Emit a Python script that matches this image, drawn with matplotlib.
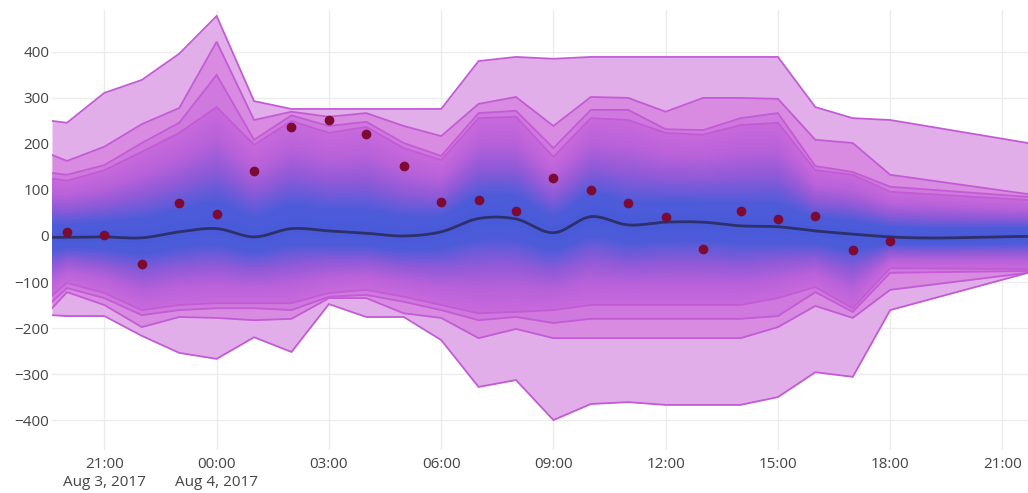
import numpy as np
import pandas as pd
import matplotlib
matplotlib.use('Agg')
import matplotlib.pyplot as plt
import matplotlib.dates as mdates

# hourly observations
obs_times = pd.date_range('2017-08-03 20:00', '2017-08-04 18:00', freq='h')
observed = [9, 2, -61, 72, 48, 141, 237, 252, 222, 152, 74, 78, 54, 126,
            100, 72, 41, -29, 54, 37, 43, -30, -11]

# forecast band times: left edge, hourly, right edge
band_times = (pd.DatetimeIndex([pd.Timestamp('2017-08-03 19:36')])
              .append(obs_times)
              .append(pd.DatetimeIndex([pd.Timestamp('2017-08-04 21:41')])))

median = [-3, -3, -2, -4, 9, 16, -2, 16, 11, 6, 0, 9, 38, 37, 7, 42, 24, 30,
          30, 22, 20, 11, 4, -2, -1]

# upper quantile edges, outermost first
upper1 = [250, 246, 311, 339, 396, 478, 293, 276, 276, 276, 276, 276, 380,
          389, 385, 389, 389, 389, 389, 389, 389, 280, 256, 252, 202]
upper2 = [176, 163, 194, 243, 278, 422, 252, 270, 259, 267, 239, 217, 287,
          302, 239, 302, 300, 270, 300, 300, 298, 209, 202, 133, 91]
upper3 = [137, 133, 154, 202, 246, 350, 209, 262, 239, 248, 202, 174, 267,
          272, 191, 274, 274, 232, 230, 256, 267, 152, 139, 107, 85]
upper4 = [125, 120, 143, 183, 224, 280, 198, 250, 224, 237, 191, 165, 256,
          259, 172, 256, 252, 224, 220, 241, 246, 143, 133, 96, 78]

# lower quantile edges, outermost first
lower1 = [-172, -174, -174, -217, -254, -267, -220, -252, -148, -176, -176,
          -226, -328, -313, -400, -365, -361, -367, -367, -367, -350, -296,
          -306, -161, -80]
lower2 = [-157, -122, -150, -198, -176, -178, -183, -180, -135, -135, -168,
          -178, -222, -202, -222, -222, -222, -222, -222, -222, -198, -152,
          -178, -117, -80]
lower3 = [-143, -113, -135, -172, -161, -157, -157, -161, -132, -128, -143,
          -161, -183, -176, -189, -180, -180, -180, -180, -180, -174, -122,
          -165, -80, -76]
lower4 = [-130, -102, -124, -161, -150, -146, -146, -146, -124, -117, -132,
          -150, -168, -165, -161, -150, -150, -150, -150, -150, -135, -111,
          -157, -70, -72]

tick_times = pd.date_range('2017-08-03 21:00', '2017-08-04 21:00', freq='3h')
tick_labels = ['21:00\nAug 3, 2017', '00:00\nAug 4, 2017', '03:00', '06:00',
               '09:00', '12:00', '15:00', '18:00', '21:00']


def smooth(x, y, xs):
    # cubic hermite through the points (like plotly's spline line shape)
    x = np.asarray(x, float)
    y = np.asarray(y, float)
    m = np.gradient(y, x)
    i = np.clip(np.searchsorted(x, xs) - 1, 0, len(x) - 2)
    h = x[i + 1] - x[i]
    t = (xs - x[i]) / h
    h00 = 2 * t**3 - 3 * t**2 + 1
    h10 = t**3 - 2 * t**2 + t
    h01 = -2 * t**3 + 3 * t**2
    h11 = t**3 - t**2
    return h00 * y[i] + h10 * h * m[i] + h01 * y[i + 1] + h11 * h * m[i + 1]


plt.rcParams['font.family'] = ['Open Sans', 'DejaVu Sans']

xb = mdates.date2num(band_times.to_pydatetime())
xo = mdates.date2num(obs_times.to_pydatetime())
x0, x1 = xb[0], xb[-1]
y0, y1 = -465, 491

fig = plt.figure(figsize=(10.28, 4.93), dpi=100)
ax = fig.add_axes([52 / 1028, 43 / 493, 976 / 1028, 440 / 493])

band_cols = ['#e1aee9', '#d88be1', '#cf78dd']
line_col = '#c35bd6'
uppers = [upper1, upper2, upper3]
lowers = [lower1, lower2, lower3]
for k in range(3):
    ax.fill_between(xb, lowers[k], uppers[k], color=band_cols[k], lw=0, zorder=2)

# inner fan: blue core fading to violet towards the 4th quantile edge
nx, ny = 2000, 1000
xg = np.linspace(x0, x1, nx)
yg = np.linspace(y0, y1, ny)[:, None]
u4 = np.interp(xg, xb, upper4)
l4 = np.interp(xg, xb, lower4)
mg = smooth(xb, median, xg)
d = np.where(yg >= mg, (yg - mg) / (u4 - mg), (mg - yg) / (mg - l4))
inside = (yg <= u4) & (yg >= l4)
stops = [0.0, 0.22, 0.5, 0.76, 1.0]
reds = [72, 78, 145, 186, 200]
greens = [90, 92, 90, 98, 106]
blues = [216, 218, 216, 218, 220]
rgba = np.zeros((ny, nx, 4))
rgba[..., 0] = np.interp(d, stops, reds) / 255
rgba[..., 1] = np.interp(d, stops, greens) / 255
rgba[..., 2] = np.interp(d, stops, blues) / 255
rgba[..., 3] = inside
ax.imshow(rgba, extent=[x0, x1, y0, y1], origin='lower', aspect='auto',
          interpolation='nearest', zorder=3)

for arr in [upper1, upper2, upper3, upper4, lower1, lower2, lower3, lower4]:
    ax.plot(xb, arr, color=line_col, lw=1.3, zorder=4, solid_joinstyle='miter')

xs = np.linspace(x0, x1, 1500)
ax.plot(xs, smooth(xb, median, xs), color='#2e2f6b', lw=2, zorder=5)
ax.plot(xo, observed, 'o', color='#7d0a33', markersize=6, zorder=6)

ax.set_xlim(x0, x1)
ax.set_ylim(y0, y1)
ax.set_yticks(range(-400, 401, 100))
ax.set_xticks(mdates.date2num(tick_times.to_pydatetime()), tick_labels)
ax.tick_params(length=0, labelsize=11, labelcolor='#444444')
ax.tick_params(axis='y', pad=2)
ax.tick_params(axis='x', pad=5)
for lab in ax.get_xticklabels():
    lab.set_linespacing(1.3)
ax.grid(color='#ececec', lw=1)
ax.set_axisbelow(True)
for s in ax.spines.values():
    s.set_visible(False)

plt.savefig('out.png', dpi=100)
